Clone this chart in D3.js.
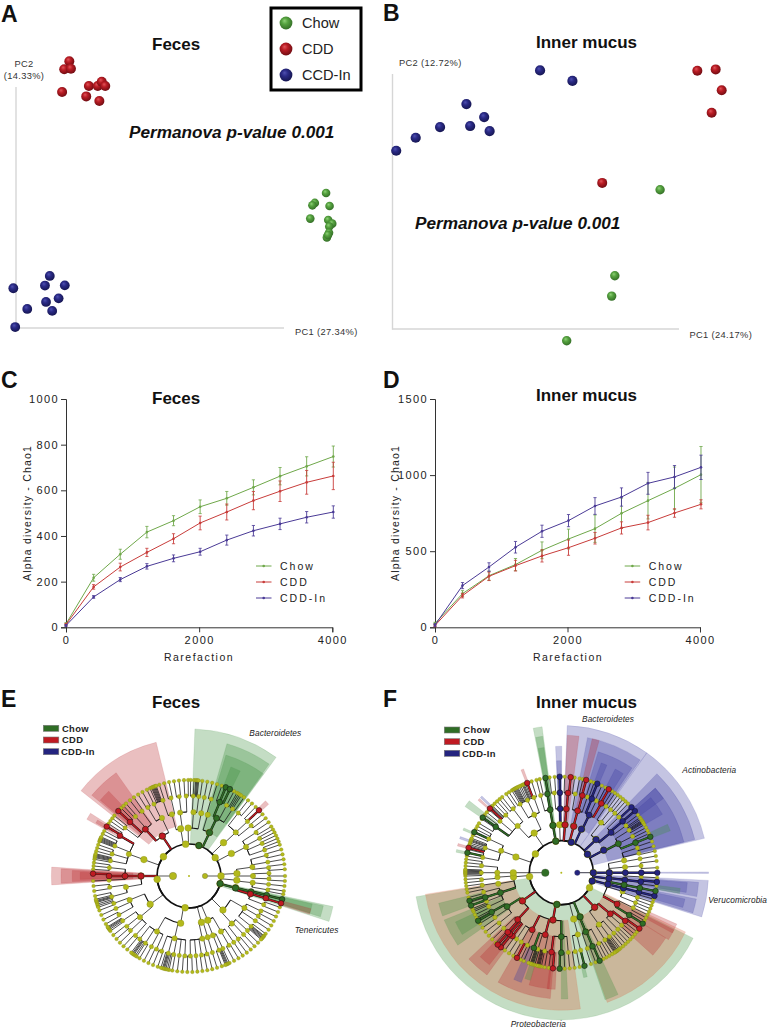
<!DOCTYPE html>
<html><head><meta charset="utf-8">
<script src="https://cdn.jsdelivr.net/npm/d3@7/dist/d3.min.js"></script>
<style>html,body{margin:0;padding:0;background:#fff}svg{display:block}text{font-family:"Liberation Sans",Arial,sans-serif}</style>
</head><body><svg id="c" width="768" height="1028"></svg>
<script>
// ---------- PCoA scores, percent of axis length [PC1, PC2]
const groups = ["Chow", "CDD", "CCD-In"];
const aChow = [[115.7,56],[111.5,51.9],[110.6,50.9],[117,50.6],[109.8,45.4],[116.5,44.8],[118,43.3],[116.9,42.1],[116.8,39.5],[116,37.6],[116.4,38.6]];
const aCdd = [[19.9,110.7],[18,107.4],[20.5,107.6],[17.2,97.9],[27.2,100.4],[30.5,100.4],[32,102.2],[33.3,100.4],[26.2,96.1],[31.1,94.2]];
const aIn = [[12.6,21.6],[10.8,17.6],[18.2,17.7],[-1,16.5],[15.9,12.3],[11.2,10.8],[4.2,7.9],[13.5,7.1],[-0.3,0.4]];
const bChow = [[93.4,54.6],[77.6,20.9],[76.5,12.9],[60.8,-4.6]];
const bCdd = [[106.4,101.3],[112.8,101.8],[114.9,93.6],[111.4,84.8],[73.2,57.3]];
const bIn = [[51.5,101.4],[62.8,97.3],[25.8,88.2],[32,83.1],[16.6,79.2],[27.1,79.6],[33.9,77.6],[8.1,75],[1.3,69.9]];
// ---------- Rarefaction curves
const rare = [0,415,815,1215,1615,2015,2415,2815,3215,3615,4015];
const rareTicks = [0,2000,4000];
const cTicks = [0,200,400,600,800,1000];
const dTicks = [0,500,1000,1500];
const lineNames = ["Chow","CDD","CDD-In"];
const cChow = [15,217,320,417,467,528,565,613,662,705,748];
const cChowE = [5,15,22,25,22,30,30,33,38,42,46];
const cCdd = [12,177,264,328,388,457,505,555,596,635,663];
const cCddE = [5,10,17,18,22,30,35,40,45,52,60];
const cIn = [8,133,209,267,302,331,382,423,453,482,505];
const cInE = [4,6,9,12,15,15,22,23,25,25,27];
const dChow = [25,221,339,412,506,580,648,749,832,913,1003];
const dChowE = [8,20,30,40,55,65,90,100,120,140,185];
const dCdd = [12,208,335,405,469,523,585,653,688,751,808];
const dCddE = [8,15,28,35,40,50,38,40,48,28,30];
const dIn = [15,274,396,526,631,701,797,856,946,988,1051];
const dInE = [8,20,28,38,40,40,55,60,72,75,80];
// ---------- Cladogram E: node angles (deg clockwise from top) per taxonomic level
const feL1 = [264,307,354,18,55,90,104,187];
const feL2 = [270,290,326,350,359,25,46,62,87,95,104,135,157,165,190,234];
const feL3 = [260,270,290,317,335,344.5,352,4,11,17,25.5,47,63,82,90,96,104,106.4,120,138,150,158,163,168,193,210,230,248];
const feL4 = [255,262,267,270,276,281,286,292,300,300.5,307,312.5,318,324,329,334,341,347,353,358,3,7,11,16,22.6,28,33,38,47,51,57,62,66,71,75,80,84,88,92,96,100,103.8,106.1,111,116,120,124,129,133,137,142,146,150,155,158,163,167,171,175,179,183,187,191,195,200,204,208,213,218,222,227,231,236,241,246,250];
const feL5 = [252,253,254,254.6,255.2,256,258,261,264,267,271.4,274,276,278,280,281,281.6,282.2,282.8,283.4,285,287,289,291,291.6,292.2,292.8,293.4,294,296,298,301,303,305,307,309,312.6,315,317,319,322,325,328,331,334,336,337,337.6,338.2,338.8,339.4,340,342,345,348,351,354,357,359.5,1,3,4,4.6,5.2,5.8,8,11,14,17,20,22.5,25.2,28,30,31,32,33,35,38,41,44,46.8,50,53,56,59,61,63,65,67,69,71,74,77,80,83,86,90,93,96,99,101,104,106.5,109,112,115,118,121,124,127,128.5,129,129.6,130.2,130.8,131.4,134,137,140,143,146,149,152,155,156,156.6,157.2,157.8,160,163,166,169,172,175,178,181,184,187,190,192,193,194,194.8,195.4,196,197,199,202,205,208,211,213,214,215,215.6,216.2,217,220,223,226,229,232,235,236,236.8,237.4,238,240,243,246,249,251];
// coloured nodes: angle, level, group index
const feNodes = [[18,1,0],[25.3,2,0],[25.5,3,0],[22.6,4,0],[22.5,5,0],[25.2,5,0],[326.3,2,1],[317,3,1],[312.5,4,1],[312.6,5,1],[300.3,4,1],[301,5,1],[270,2,1],[270,3,1],[270,4,1],[271.4,5,1],[46.8,5,1],[103.7,1,0],[104.4,2,0],[104.2,3,0],[103.8,4,0],[104,5,0],[106.4,3,1],[106.1,4,1],[106.5,5,1]];
// wedges: start, end, inner level, outer level, group index
const feWedges = [[-51.7,-13.8,2.2,7.6,1],[-50.3,-35.2,3,6.9,1],[-49.5,-43.4,4,6.3,1],[-61,-57.5,4.2,6.3,1],[-60.3,-58.5,4.5,5.7,1],[-93.7,-86.3,2,7.6,1],[-93.2,-86.8,2,7,1],[-92.7,-87.3,2.5,6.3,1],[-91.8,-88,3,5.8,1],[45.5,48,5,5.7,1],[2.3,36.3,1,8.2,0],[16,35.6,2,7.6,0],[17,36,3,6.9,0],[21,26,4,6.3,0],[102,108,1,8.2,0],[102.5,107.2,2,7.6,0],[102.8,107,3,6.9,0],[105,107.6,5,6.9,1]];
// ---------- Cladogram F
const fiL1 = [263,306,350,18,55,90,105,118,188];
const fiL2 = [265,270,289,325.6,350,358,4.5,15,25,46,62,90,97,104,136,157,165,190,234];
const fiL3 = [252,260,266,270,290,317,335,350,359,4.5,15,26,38.5,51,63,79,85,90,96,101,107,119,130,144,157,165,180,194.5,207,223,238];
const fiL4 = [245,249,252,256,261,265,270,275,281,288,295,305,310,316,323,329,335,340,345,350,355,359,4.8,10,15.3,19,22.4,26,30,34,38,42,46,50,54,58,63,68,72,76,80,85,90,93,96.5,101,104,108,112,116,122,127,131,135,139,143,147,152,157,161,166,170,175,180,187,192,197,200,205,210,214,218,220,222,226,231,236,240.5];
const fiL5 = [246,247,248,250,252,253,255,258,260,262,264,266,268,269,269.6,270.2,270.8,271.4,272,274,276,278,280,282,284,285,285.6,286.2,287,288,289,289.6,290.2,291,293,295,297,299,301,304,305,307,309,311,312,313,313.6,314.2,316,318,320,322,325,327,329,330,330.6,331.2,331.8,332.4,333,334,335,336,336.6,337.2,338,339.2,342,345,347,350.5,353,356,359,2,5.6,8,11,13,15,18,20,22,25,27.5,29.6,32,34,36,38,40,42,44,47,50,53,55,56,57,57.6,58.2,58.8,60,62,64,66,68,71,74,77,80,83,87,90,93,95.5,98,101,104,106,108,110,112,114,116,118,120,122,125.6,128,130,132,134,136,138,140,142,143,144,144.6,145.2,145.8,146.4,148,150,152,154,156.5,159,162,166,169,172,175,178,181,185,187.5,190,192,193,193.6,194.2,194.8,196,197,197.6,198.2,198.8,200,203,205,207.5,210,213,216,219,220,221.5,223,226,229,232,235,238,240,241,242,244];
const fiNodes = [[18,1,2],[54.8,1,2],[24.8,2,2],[62,2,2],[46.4,2,2],[25.8,3,2],[51,3,2],[50,4,2],[22.4,4,2],[22,5,2],[-1,5,2],[-1,4,2],[-1,3,2],[90,1,2],[90,2,2],[90,3,2],[90,4,2],[90,5,2],[105,1,2],[97,2,2],[96.5,3,2],[96.5,4,2],[95.5,5,2],[104,2,2],[104,3,2],[104,4,2],[104,5,2],[50,5,2],[47,5,2],[4.4,2,1],[4.5,3,1],[4.8,4,1],[5.6,5,1],[15,2,1],[14.8,3,1],[15.3,4,1],[15,5,1],[30,4,1],[29.6,5,1],[339.2,5,1],[312,5,1],[285,5,1],[234,2,1],[190,2,1],[136,2,1],[194.5,3,1],[207,3,1],[223,3,1],[130,3,1],[119.4,3,1],[217.6,4,1],[220,4,1],[222,4,1],[219,5,1],[221.5,5,1],[207.5,5,1],[187,4,1],[185,5,1],[127,4,1],[125.6,5,1],[-10,1,0],[-10,2,0],[-10,3,0],[-10,4,0],[-9.5,5,0],[188,1,0],[157,2,0],[157.6,3,0],[157,4,0],[156.5,5,0],[180,3,0],[180,4,0],[181,5,0],[200,4,0],[166,5,0],[238,3,0],[251.8,3,0],[252,4,0],[253,5,0],[250,5,0],[240.5,4,0],[240,5,0],[305.1,5,0],[305,4,0],[295,5,0],[282,5,0],[63,3,0],[68,4,0],[68,5,0],[101,3,0],[101,4,0],[101,5,0],[122,4,0],[122,5,0]];
const fiWedges = [[2.3,35.5,1,8.2,2],[35.5,76.5,1,8.2,2],[11,35,2,7.6,2],[17,34,3,6.9,2],[20,23,4,6.3,2],[27.5,32,4,6.3,2],[2.5,7.4,2,7.6,1],[13,16,3,7.6,1],[44,76,2,7.6,2],[48,76,3,6.9,2],[50,60,4,6.3,2],[48,54,5,6.9,2],[65.5,69,5,6.3,0],[93,107.5,1,8.2,2],[94,100,2,7.6,2],[101,107,2,7.6,2],[94.5,99,4,6.9,2],[102,106,4,6.9,2],[97.5,100,5,6.5,0],[89.7,90.3,0,8.2,2],[-11,-7.5,1,8.2,0],[-10.7,-7.8,2,7.6,0],[-10.5,-8,3,6.9,0],[-2.6,0.2,2,6.9,2],[-2.4,0,3,6,2],[-55.5,-52,4,6.3,0],[-79,-77.5,5,5.7,0],[-75.6,-74.2,5,5.7,1],[-71.6,-70.3,5,5.7,2],[-66.6,-65.3,5,5.7,0],[-49,-47.8,5,5.9,1],[-47.2,-46,5,5.9,2],[-21.4,-20,5,5.9,1],[116.4,260.6,1,8.2,0],[115.5,160.5,2,7.6,3],[172,261,2,7.6,3],[114,118.5,5,6.9,1],[117,122,3,6.9,1],[122,132,4,6.7,1],[185,210,3,6.9,1],[186,196,4,6.3,1],[216,227,3,6.9,1],[218,224,4,6.3,1],[250,256,4,6.9,0],[235,248,3,6.9,0],[238,245,4,6.3,0],[200,204,4,6.3,2],[196,199,4,6,0],[177,180,2,6.9,0],[183,187,4,6.3,1],[155,161,2,7.4,0],[166,168,5,5.7,0]];
// ---------- labels
const cladoLegend = ["Chow","CDD","CDD-In"];
const feClades = ["Bacteroidetes","Tenericutes"];
const fiClades = ["Bacteroidetes","Actinobacteria","Verucomicrobia","Proteobacteria"];

const svg = d3.select("#c");
const defs = svg.append("defs");
const ballBase = ["#56a340","#b91c24","#2a2a86"], ballLite = ["#8fd078","#e0555a","#4f50b0"], ballDark=["#336d26","#6e0c12","#15154f"];
ballBase.forEach((c,i)=>{
  const g = defs.append("radialGradient").attr("id","ball"+i).attr("cx","45%").attr("cy","42%").attr("r","60%").attr("fx","38%").attr("fy","32%");
  g.append("stop").attr("offset","0%").attr("stop-color",ballLite[i]);
  g.append("stop").attr("offset","40%").attr("stop-color",c);
  g.append("stop").attr("offset","100%").attr("stop-color",ballDark[i]);
});
function text(g,x,y,s,size,o={}){
  const t=g.append("text").attr("x",x).attr("y",y).attr("font-size",size).attr("fill",o.fill||"#111").text(s);
  if(o.weight)t.attr("font-weight",o.weight); if(o.style)t.attr("font-style",o.style);
  if(o.anchor)t.attr("text-anchor",o.anchor); if(o.ls)t.attr("letter-spacing",o.ls);
  return t;
}
// panel letters & titles
[["A",1,22],["B",383,21],["C",1,388],["D",383,388],["E",1,707],["F",383,707]].forEach(d=>text(svg,d[1],d[2],d[0],23,{weight:700}));
[["Feces",152,50],["Inner mucus",536,48],["Feces",152,404],["Inner mucus",536,401],["Feces",152,708],["Inner mucus",536,708]].forEach(d=>text(svg,d[1],d[2],d[0],17,{weight:700}));

// PCoA panels
function pcoa(series,x0,x1,y0,y1,rs){
  const x=d3.scaleLinear().domain([0,100]).range([x0,x1]);
  const y=d3.scaleLinear().domain([0,100]).range([y0,y1]);
  const g=svg.append("g");
  g.append("line").attr("x1",x(0)).attr("x2",x(0)).attr("y1",y(-0.3)).attr("y2",y(100)).attr("stroke","#d6d6d6").attr("stroke-width",1.4);
  g.append("line").attr("x1",x(0)).attr("x2",x(100)).attr("y1",y(0)).attr("y2",y(0)).attr("stroke","#d6d6d6").attr("stroke-width",1.4);
  series.forEach((s,i)=>g.selectAll(null).data(s).join("circle").attr("cx",d=>x(d[0])).attr("cy",d=>y(d[1])).attr("r",rs[i]).attr("fill",`url(#ball${i})`));
}
pcoa([aChow,aCdd,aIn],16,284,328,87,[4.3,5,4.9]);
pcoa([bChow,bCdd,bIn],392.5,679,329,74,[4.7,5,5.1]);
text(svg,24,67,"PC2",9.3,{anchor:"middle",fill:"#333",ls:0.35});
text(svg,24,79,"(14.33%)",9.3,{anchor:"middle",fill:"#333",ls:0.35});
text(svg,295,335,"PC1 (27.34%)",9.3,{fill:"#333",ls:0.35});
text(svg,399,66,"PC2 (12.72%)",9.3,{fill:"#333",ls:0.35});
text(svg,689.5,338,"PC1 (24.17%)",9.3,{fill:"#333",ls:0.35});
text(svg,129,138,"Permanova p-value 0.001",17.2,{weight:700,style:"italic"});
text(svg,415,229,"Permanova p-value 0.001",17.2,{weight:700,style:"italic"});
// legend
svg.append("rect").attr("x",271).attr("y",8).attr("width",90).attr("height",82).attr("fill","#fff").attr("stroke","#000").attr("stroke-width",3);
groups.forEach((n,i)=>{
  const yy=23+i*26;
  svg.append("circle").attr("cx",286).attr("cy",yy).attr("r",6.4).attr("fill",`url(#ball${i})`);
  text(svg,302,yy+5.4,n,14.6,{fill:"#222"});
});

// rarefaction panels
const lineCol=["#6fa84a","#c83c3a","#4a3a96"];
function rarefaction(vals,errs,xr,yr,domY,yticks,ylabX,xlabX,legX){
  const x=d3.scaleLinear().domain([0,4000]).range(xr);
  const y=d3.scaleLinear().domain([0,domY]).range(yr);
  const g=svg.append("g");
  const ax=g.append("g").attr("transform",`translate(0,${yr[0]})`).call(d3.axisBottom(x).tickValues(rareTicks).tickSize(5).tickFormat(d3.format("d")));
  const ay=g.append("g").attr("transform",`translate(${xr[0]},0)`).call(d3.axisLeft(y).tickValues(yticks).tickSize(5).tickFormat(d3.format("d")));
  [ax,ay].forEach(a=>{a.selectAll("path,line").attr("stroke","#333").attr("stroke-width",1);a.selectAll("text").attr("font-size",11).attr("letter-spacing",1.4).attr("fill","#222").attr("font-family",'"Liberation Sans",Arial,sans-serif');});
  ay.selectAll("text").attr("x",-7);
  ax.selectAll("text").attr("y",9);
  vals.forEach((v,i)=>{
    const s=g.append("g").attr("stroke",lineCol[i]).attr("fill",lineCol[i]);
    const pts=v.map((d,j)=>({x:rare[j],y:d,e:errs[i][j]}));
    s.append("path").attr("fill","none").attr("stroke-width",1).attr("d",d3.line().x(d=>x(d.x)).y(d=>y(d.y))(pts));
    const b=s.selectAll(null).data(pts).join("g");
    b.append("line").attr("x1",d=>x(d.x)).attr("x2",d=>x(d.x)).attr("y1",d=>y(d.y-d.e)).attr("y2",d=>y(d.y+d.e)).attr("stroke-width",.9);
    [1,-1].forEach(k=>b.append("line").attr("x1",d=>x(d.x)-1.6).attr("x2",d=>x(d.x)+1.6).attr("y1",d=>y(d.y+k*d.e)).attr("y2",d=>y(d.y+k*d.e)).attr("stroke-width",.8));
    b.append("circle").attr("cx",d=>x(d.x)).attr("cy",d=>y(d.y)).attr("r",1.3).attr("stroke","none");
    const ly=566+i*16;
    g.append("line").attr("x1",legX).attr("x2",legX+15.5).attr("y1",ly).attr("y2",ly).attr("stroke",lineCol[i]).attr("stroke-width",1);
    g.append("circle").attr("cx",legX+7.7).attr("cy",ly).attr("r",1.3).attr("fill",lineCol[i]);
    text(g,legX+24,ly+3.8,lineNames[i],10.5,{fill:"#222",ls:2});
  });
  text(g,0,0,"Alpha diversity - Chao1",10.5,{anchor:"middle",fill:"#222",ls:1.2}).attr("transform",`translate(${ylabX},513) rotate(-90)`);
  text(g,xlabX,660.5,"Rarefaction",10.5,{anchor:"middle",fill:"#222",ls:1.5});
}
rarefaction([cChow,cCdd,cIn],[cChowE,cCddE,cInE],[66,332.3],[627.3,399],1000,cTicks,31,199,256);
rarefaction([dChow,dCdd,dIn],[dChowE,dCddE,dInE],[435,700],[627.3,399],1500,dTicks,399,568,624.7);

// cladograms
const nodeCol=["#2f6d25","#c01a22","#24247f"], wedgeCol=["#3c8f3c","#bb2a30","#3a3aa0","#d8603a"];
const rad=d3.scaleLinear().domain([0,5]).range([16,96]);
const deg=a=>a*Math.PI/180;
function cladogram(cx,cy,levels,colored,wedges,rootNodes){
  const g=svg.append("g").attr("transform",`translate(${cx},${cy})`);
  const arc=d3.arc();
  g.append("g").selectAll("path").data(wedges).join("path")
    .attr("d",d=>arc({startAngle:deg(d[0]),endAngle:deg(d[1]),innerRadius:rad(d[2]),outerRadius:rad(d[3])}))
    .attr("fill",d=>wedgeCol[d[4]]).attr("fill-opacity",.3).attr("stroke",d=>wedgeCol[d[4]]).attr("stroke-opacity",.25).attr("stroke-width",.5);
  const links=g.append("g").attr("fill","none").attr("stroke","#111");
  const ring=(r,a0,a1,w)=>links.append("path").attr("stroke-width",w).attr("d",arc({startAngle:deg(a0),endAngle:deg(a1),innerRadius:r,outerRadius:r}));
  ring(rad(1),0,360,1.7);
  rootNodes.forEach(n=>{const p=d3.pointRadial(deg(n[0]),rad(0)),q=d3.pointRadial(deg(n[0]),rad(1));links.append("line").attr("x1",p[0]).attr("y1",p[1]).attr("x2",q[0]).attr("y2",q[1]).attr("stroke-width",.7);});
  const widths=[1.6,1.1,.8,.7];
  const cdiff=(a,b)=>((a-b+540)%360)-180;
  for(let L=2;L<=5;L++){
    const par=levels[L-2], kids=levels[L-1], spans=par.map(()=>[0,0]);
    kids.forEach(k=>{
      let bi=0,bd=1e9; par.forEach((p,i)=>{const dd=Math.abs(cdiff(k,p)); if(dd<bd){bd=dd;bi=i;}});
      const d=cdiff(k,par[bi]); spans[bi][0]=Math.min(spans[bi][0],d); spans[bi][1]=Math.max(spans[bi][1],d);
      const p=d3.pointRadial(deg(k),rad(L)),q=d3.pointRadial(deg(k),rad(L-1));
      links.append("line").attr("x1",p[0]).attr("y1",p[1]).attr("x2",q[0]).attr("y2",q[1]).attr("stroke-width",.75);
    });
    par.forEach((p,i)=>ring(rad(L-1),p+spans[i][0],p+spans[i][1],widths[L-2]));
  }
  // thick highlighted branches
  const hi=g.append("g");
  colored.filter(d=>d[1]>1).forEach(d=>{
    const p=d3.pointRadial(deg(d[0]),rad(d[1])),q=d3.pointRadial(deg(d[0]),rad(d[1]-1));
    hi.append("line").attr("x1",p[0]).attr("y1",p[1]).attr("x2",q[0]).attr("y2",q[1]).attr("stroke","#111").attr("stroke-width",2.3);
    hi.append("line").attr("x1",p[0]).attr("y1",p[1]).attr("x2",q[0]).attr("y2",q[1]).attr("stroke",nodeCol[d[2]]).attr("stroke-width",1.5);
  });
  const yr=[0,3.4,3.3,2.7,2.2,1.8];
  const ns=g.append("g");
  levels.forEach((lv,i)=>{
    ns.selectAll(null).data(lv).join("circle")
      .attr("transform",d=>`translate(${d3.pointRadial(deg(d),rad(i+1))})`).attr("r",yr[i+1])
      .attr("fill","#b3b91c").attr("stroke","#7f8410").attr("stroke-width",.3);
  });
  ns.selectAll(null).data(colored).join("circle")
    .attr("transform",d=>`translate(${d3.pointRadial(deg(d[0]),rad(d[1]))})`).attr("r",d=>[0,3.2,3.2,3,2.9,2.8][d[1]])
    .attr("fill",d=>nodeCol[d[2]]).attr("stroke","#111").attr("stroke-width",.5);
  ns.selectAll(null).data(rootNodes).join("circle")
    .attr("transform",d=>`translate(${d3.pointRadial(deg(d[0]),rad(0))})`).attr("r",d=>d[1])
    .attr("fill",d=>d[2]<0?"#b3b91c":nodeCol[d[2]]).attr("stroke","#555").attr("stroke-width",.3);
  g.append("circle").attr("r",1).attr("fill","#b3b91c");
}
const feRoots=[[270,3.7,-1],[90,2.7,-1]], fiRoots=[[270,3.8,0],[90,2.7,2]];
cladogram(189,876,[feL1,feL2,feL3,feL4,feL5],feNodes,feWedges,feRoots);
cladogram(561.3,872.7,[fiL1,fiL2,fiL3,fiL4,fiL5],fiNodes,fiWedges,fiRoots);
// cladogram legends
function cladoLeg(rx,tx,ys,inX){
  cladoLegend.forEach((n,i)=>{
    svg.append("rect").attr("x",rx).attr("y",ys[i]-3).attr("width",15.5).attr("height",6).attr("fill",nodeCol[i]).attr("stroke","#777").attr("stroke-width",.6);
    text(svg,i==2?inX:tx,ys[i]+3.4,n,9.4,{weight:700,fill:"#222",ls:.35});
  });
}
cladoLeg(43.3,62,[728.3,740,751.7],61);
cladoLeg(444.3,463.3,[730,741.7,753.3],462);
const lab={style:"italic",fill:"#222",ls:.1};
text(svg,249.3,736,feClades[0],8.3,lab);
text(svg,294.7,933,feClades[1],8.3,lab);
text(svg,582,721.7,fiClades[0],8.3,lab);
text(svg,682.3,773.3,fiClades[1],8.3,lab);
text(svg,708.3,903.3,fiClades[2],8.3,lab);
text(svg,510.7,1027,fiClades[3],8.3,lab);
</script></body></html>
